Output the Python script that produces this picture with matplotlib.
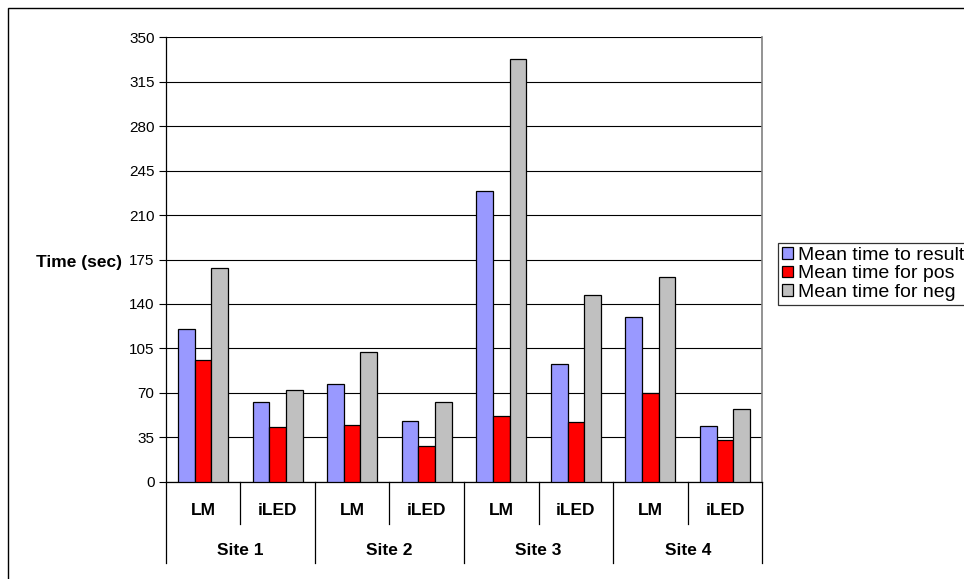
import numpy as np
import matplotlib.pyplot as plt
from matplotlib.patches import Rectangle
from matplotlib.transforms import blended_transform_factory

plt.rcParams['font.family'] = ['Liberation Sans', 'DejaVu Sans']

sites = ['Site 1', 'Site 2', 'Site 3', 'Site 4']
methods = ['LM', 'iLED']
series_names = ['Mean time to result', 'Mean time for pos', 'Mean time for neg']
# values per (site, method) in order S1-LM, S1-iLED, S2-LM, ...
time_to_result = [120, 63, 77, 48, 229, 93, 130, 44]
time_for_pos = [96, 43, 45, 28, 52, 47, 70, 33]
time_for_neg = [168, 72, 102, 63, 333, 147, 161, 57]
series_colors = ['#9999FF', '#FF0000', '#C0C0C0']
yticks = np.arange(0, 351, 35)

W, H = 964, 579
fig = plt.figure(figsize=(W / 100, H / 100), dpi=100)

# plot area in pixels
left, right, top, bottom = 165.7, 762.3, 37.3, 481.7
ax = fig.add_axes([left / W, (H - bottom) / H, (right - left) / W, (bottom - top) / H])

n = len(time_to_result)
x = np.arange(n)
bw = 0.223
for i, (vals, col, name) in enumerate(zip([time_to_result, time_for_pos, time_for_neg],
                                          series_colors, series_names)):
    ax.bar(x + (i - 1) * bw, vals, width=bw, color=col, edgecolor='black',
           linewidth=0.9, label=name, zorder=3)

ax.set_xlim(-0.5, n - 0.5)
ax.set_ylim(0, 350)
ax.set_yticks(yticks)
ax.set_yticklabels([str(v) for v in yticks], fontsize=11)
ax.tick_params(axis='y', length=5, width=0.8, color='black', pad=3, direction='out')
ax.set_xticks([])
ax.grid(axis='y', color='black', linewidth=0.8, zorder=0)
ax.set_axisbelow(True)

ax.spines['top'].set_visible(False)
ax.spines['right'].set_color('#808080')
ax.spines['right'].set_linewidth(1.2)
ax.spines['left'].set_linewidth(0.9)
ax.spines['bottom'].set_linewidth(0.9)

# two-level category axis
ppx = bottom - top
def ay(py):
    return (bottom - py) / ppx

trans = blended_transform_factory(ax.transData, ax.transAxes)
for k in range(len(sites)):
    ax.plot([2 * k + 0.5] * 2, [0, ay(524)], color='black', lw=0.9,
            transform=trans, clip_on=False)
for k in range(len(sites) + 1):
    ax.plot([2 * k - 0.5] * 2, [0, ay(563)], color='black', lw=0.9,
            transform=trans, clip_on=False)

for i in range(n):
    ax.text(i, ay(510.5), methods[i % 2], transform=trans, ha='center', va='center',
            fontsize=12.5, fontweight='bold')
for k, s in enumerate(sites):
    ax.text(2 * k + 0.5, ay(550.5), s, transform=trans, ha='center', va='center',
            fontsize=12.5, fontweight='bold')

fig.text(122 / W, 1 - 262 / H, 'Time (sec)', ha='right', va='center',
         fontsize=12.5, fontweight='bold')

leg = fig.legend(loc='upper left', bbox_to_anchor=(778 / W, 1 - 243 / H),
                 fontsize=14, frameon=True, fancybox=False, borderaxespad=0,
                 handlelength=0.55, handleheight=0.55, handletextpad=0.3,
                 labelspacing=0.08, borderpad=0.2)
leg.get_frame().set_edgecolor('black')
leg.get_frame().set_linewidth(0.9)

# chart border
fig.patches.append(Rectangle((8 / W, -0.1), 1.2, 1 - 8 / H + 0.1, transform=fig.transFigure,
                             fill=False, edgecolor='black', linewidth=1.0))

fig.savefig('out.png', dpi=100)
